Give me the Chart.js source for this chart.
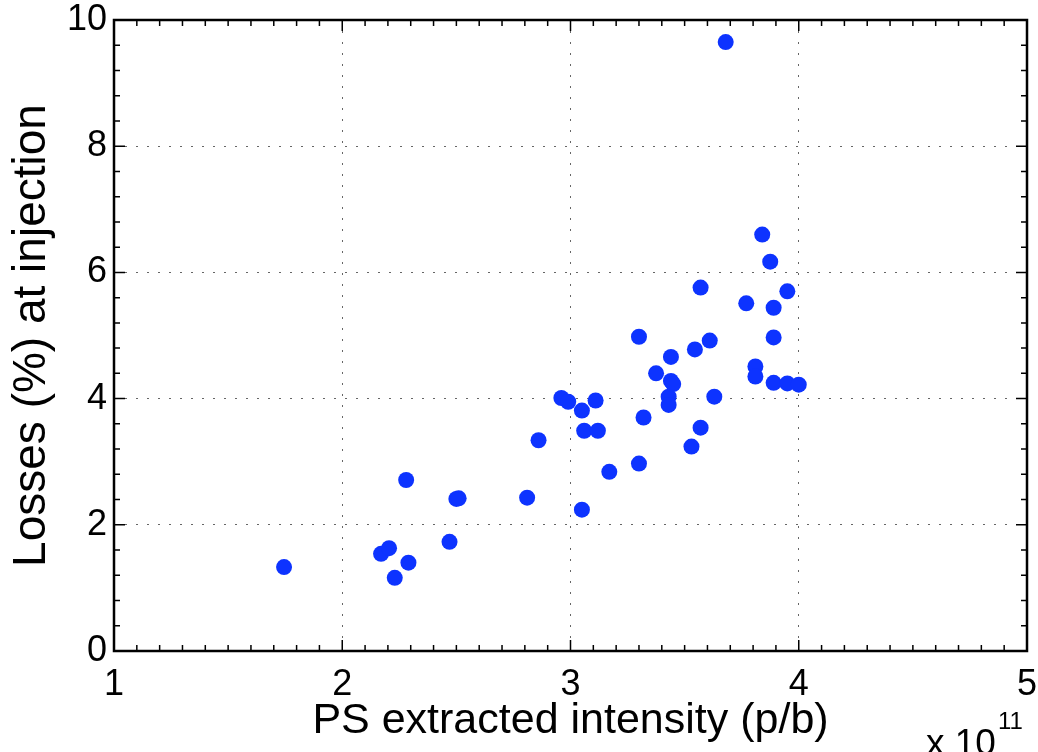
<!DOCTYPE html>
<html>
<head>
<meta charset="utf-8">
<script src="https://cdn.jsdelivr.net/npm/chart.js@4/dist/chart.umd.min.js"></script>
<style>
  html, body { margin: 0; padding: 0; background: #fff; }
  #wrap { width: 1038px; height: 752px; }
</style>
</head>
<body>
<div id="wrap"><canvas id="lossChart" width="1038" height="752"></canvas></div>
<script>
// PS extracted intensity, in units of 1e11 p/b
const intensity = [
  1.745, 2.17, 2.205, 2.23, 2.29, 2.28, 2.47, 2.50, 2.51, 2.81,
  2.86, 2.96, 2.99, 3.05, 3.05, 3.06, 3.11, 3.12, 3.17, 3.30,
  3.30, 3.32, 3.375, 3.44, 3.44, 3.45, 3.43, 3.43, 3.53, 3.545,
  3.57, 3.57, 3.61, 3.63, 3.68, 3.77, 3.81, 3.81, 3.84, 3.875,
  3.89, 3.89, 3.89, 3.95, 3.95, 4.00
];
// losses at injection (%)
const losses = [
  1.33, 1.54, 1.63, 1.16, 1.40, 2.71, 1.73, 2.41, 2.42, 2.43,
  3.34, 4.01, 3.95, 2.24, 3.81, 3.49, 3.97, 3.49, 2.84, 4.98,
  2.97, 3.70, 4.40, 4.66, 4.28, 4.23, 4.03, 3.90, 3.24, 4.78,
  3.54, 5.76, 4.92, 4.03, 9.65, 5.51, 4.51, 4.35, 6.60, 6.17,
  5.44, 4.97, 4.25, 5.70, 4.24, 4.22
];
const xTicks = [1, 2, 3, 4, 5];
const yTicks = [0, 2, 4, 6, 8, 10];

const FONT = '"Liberation Sans", Arial, Helvetica, sans-serif';

// box, inward major/minor ticks on all four sides, and the x10^11 exponent
const frame = {
  id: 'frame',
  afterDraw(chart) {
    const {ctx, chartArea: a, scales: {x, y}} = chart;
    ctx.save();
    ctx.strokeStyle = '#000';
    ctx.lineWidth = 1.5;
    ctx.beginPath();
    for (let i = 10; i <= 50; i++) {
      const px = x.getPixelForValue(i / 10);
      const len = i % 10 === 0 ? 11 : 6;
      ctx.moveTo(px, a.bottom); ctx.lineTo(px, a.bottom - len);
      ctx.moveTo(px, a.top); ctx.lineTo(px, a.top + len);
    }
    for (let i = 0; i <= 25; i++) {
      const py = y.getPixelForValue(i * 0.4);
      const len = i % 5 === 0 ? 11 : 6;
      ctx.moveTo(a.left, py); ctx.lineTo(a.left + len, py);
      ctx.moveTo(a.right, py); ctx.lineTo(a.right - len, py);
    }
    ctx.stroke();
    ctx.lineWidth = 2.5;
    ctx.strokeRect(a.left, a.top, a.right - a.left, a.bottom - a.top);

    ctx.fillStyle = '#000';
    ctx.textBaseline = 'alphabetic';
    ctx.textAlign = 'left';
    ctx.font = '37px ' + FONT;
    ctx.fillText('x 10', 926, 755);
    ctx.font = '24px ' + FONT;
    ctx.fillText('11', 998, 729);
    ctx.restore();
  }
};

new Chart(document.getElementById('lossChart'), {
  type: 'scatter',
  data: {
    datasets: [{
      label: 'losses',
      data: intensity.map((v, i) => ({x: v, y: losses[i]})),
      backgroundColor: '#0d33ff',
      borderWidth: 0,
      pointRadius: 8,
      pointHoverRadius: 8
    }]
  },
  options: {
    responsive: false,
    animation: false,
    events: [],
    layout: {padding: {top: 20, right: 11, left: 0, bottom: 0}},
    plugins: {legend: {display: false}, tooltip: {enabled: false}},
    scales: {
      x: {
        type: 'linear',
        min: 1, max: 5,
        afterBuildTicks: s => { s.ticks = xTicks.map(v => ({value: v})); },
        afterFit: s => { s.height = 101; s.paddingLeft = 0; s.paddingRight = 0; },
        ticks: {color: '#000', font: {family: FONT, size: 36}, padding: 12, maxRotation: 0},
        grid: {color: 'rgba(0,0,0,0.6)', lineWidth: 1, drawTicks: false},
        border: {display: false, dash: [2, 9]},
        title: {
          display: true, text: 'PS extracted intensity (p/b)', color: '#000',
          font: {family: FONT, size: 43, lineHeight: 1.2}, padding: {top: 0, bottom: 5}
        }
      },
      y: {
        type: 'linear',
        min: 0, max: 10,
        afterBuildTicks: s => { s.ticks = yTicks.map(v => ({value: v})); },
        afterFit: s => { s.width = 114; s.paddingTop = 0; s.paddingBottom = 0; },
        ticks: {color: '#000', font: {family: FONT, size: 36}, padding: 7},
        grid: {color: 'rgba(0,0,0,0.6)', lineWidth: 1, drawTicks: false},
        border: {display: false, dash: [2, 9]},
        title: {
          display: true, text: 'Losses (%) at injection', color: '#000',
          font: {family: FONT, size: 46, lineHeight: 1.2}, padding: {top: 5, bottom: 0}
        }
      }
    }
  },
  plugins: [frame]
});
</script>
</body>
</html>
